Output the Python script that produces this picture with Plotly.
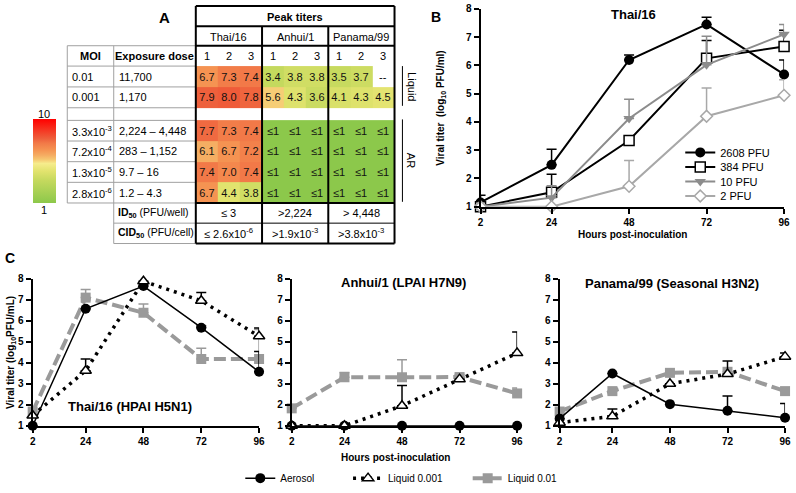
import plotly.graph_objects as go

FONT = "Arial, Liberation Sans, sans-serif"
W, H = 796, 493

# ---------------- Panel A data ----------------
viruses = ["Thai/16", "Anhui/1", "Panama/99"]
replicates = ["1", "2", "3"]
liquid_moi = ["0.01", "0.001"]
liquid_dose = ["11,700", "1,170"]
liquid_titers = [
    [6.7, 7.3, 7.4, 3.4, 3.8, 3.8, 3.5, 3.7, None],
    [7.9, 8.0, 7.8, 5.6, 4.3, 3.6, 4.1, 4.3, 4.5],
]
ar_moi = ["3.3x10<sup>-3</sup>", "7.2x10<sup>-4</sup>", "1.3x10<sup>-5</sup>", "2.8x10<sup>-6</sup>"]
ar_dose = ["2,224 – 4,448", "283 – 1,152", "9.7 – 16", "1.2 – 4.3"]
ar_titers = [
    [7.7, 7.3, 7.4, 1, 1, 1, 1, 1, 1],
    [6.1, 6.7, 7.2, 1, 1, 1, 1, 1, 1],
    [7.4, 7.0, 7.4, 1, 1, 1, 1, 1, 1],
    [6.7, 4.4, 3.8, 1, 1, 1, 1, 1, 1],
]
id50 = ["≤ 3", ">2,224", "> 4,448"]
cid50 = ["≤ 2.6x10<sup>-6</sup>", ">1.9x10<sup>-3</sup>", ">3.8x10<sup>-3</sup>"]

# ---------------- Panel B data ----------------
hours = [2, 24, 48, 72, 96]
b_names = ["2608 PFU", "384 PFU", "10 PFU", "2 PFU"]
b_vals = [
    [1.15, 2.48, 6.19, 7.45, 5.68],
    [1.0, 1.51, 3.34, 6.25, 6.67],
    [1.0, 1.32, 4.12, 6.02, 7.10],
    [1.0, 1.0, 1.72, 4.20, 4.94],
]
b_err = [
    [0.25, 0.55, 0.18, 0.25, 0.51],
    [0.0, 0.64, 0.0, 0.63, 0.57],
    [0.0, 0.42, 0.68, 1.01, 0.35],
    [0.0, 0.0, 0.91, 1.0, 0.55],
]

# ---------------- Panel C data ----------------
c_titles = ["Thai/16 (HPAI H5N1)", "Anhui/1 (LPAI H7N9)", "Panama/99 (Seasonal H3N2)"]
c_names = ["Aerosol", "Liquid 0.001", "Liquid 0.01"]
c_aerosol = [
    [1.0, 6.57, 7.65, 5.67, 3.57],
    [1.0, 1.0, 1.0, 1.0, 1.0],
    [1.34, 3.49, 2.03, 1.72, 1.38],
]
c_aerosol_err = [
    [0, 0, 0.15, 0.08, 0.97],
    [0, 0, 0, 0, 0],
    [0, 0, 0, 0.70, 0.68],
]
c_liq001 = [
    [1.49, 3.62, 7.88, 6.95, 5.26],
    [1.0, 1.0, 1.95, 3.22, 4.46],
    [1.15, 1.45, 3.0, 3.46, 4.29],
]
c_liq001_err = [
    [0, 0.56, 0, 0.39, 0.39],
    [0, 0, 0.97, 0, 1.0],
    [0, 0.35, 0, 0.62, 0.17],
]
c_liq01 = [
    [1.68, 7.10, 6.38, 4.18, 4.18],
    [1.83, 3.31, 3.31, 3.32, 2.54],
    [1.68, 2.65, 3.52, 3.57, 2.65],
]
c_liq01_err = [
    [0, 0.39, 0.42, 0.51, 1.40],
    [0, 0.23, 0.83, 0.12, 0.26],
    [0, 0, 0, 0, 0],
]

GRAY = "#8c8c8c"
LGRAY = "#a8a8a8"
DGRAY = "#9a9a9a"

fig = go.Figure()

# ---------------- Panel B traces ----------------
b_styles = [
    dict(color="black", marker=dict(symbol="circle", size=10, color="black")),
    dict(color="black", marker=dict(symbol="square", size=10, color="white", line=dict(color="black", width=1.5))),
    dict(color=GRAY, marker=dict(symbol="triangle-down", size=10, color=GRAY)),
    dict(color=LGRAY, marker=dict(symbol="diamond", size=9, color="white", line=dict(color=LGRAY, width=1.5))),
]
b_legends = ["legend", "legend5", "legend6", "legend7"]
for name, vals, err, st, lgd in zip(b_names, b_vals, b_err, b_styles, b_legends):
    fig.add_trace(go.Scatter(
        x=hours, y=vals, name=name, mode="lines+markers",
        line=dict(color=st["color"], width=2), marker=st["marker"],
        error_y=dict(type="data", array=err, arrayminus=[0] * len(err), symmetric=False,
                     color=st["color"], thickness=1.5, width=5),
        cliponaxis=False, xaxis="x", yaxis="y", legend=lgd, showlegend=True,
    ))

# ---------------- Panel C traces ----------------
for k in range(3):
    xa = "x%d" % (k + 2)
    ya = "y%d" % (k + 2)
    show = (k == 0)
    fig.add_trace(go.Scatter(
        x=hours, y=c_liq01[k], name=c_names[2], mode="lines+markers",
        line=dict(color=DGRAY, width=4, dash="12px,5px"),
        marker=dict(symbol="square", size=10, color=DGRAY),
        error_y=dict(type="data", array=c_liq01_err[k], arrayminus=[0] * 5, symmetric=False,
                     color=DGRAY, thickness=1.5, width=5),
        cliponaxis=False, xaxis=xa, yaxis=ya, showlegend=show, legend="legend4",
    ))
    fig.add_trace(go.Scatter(
        x=hours, y=c_aerosol[k], name=c_names[0], mode="lines+markers",
        line=dict(color="black", width=1.5),
        marker=dict(symbol="circle", size=10, color="black"),
        error_y=dict(type="data", array=c_aerosol_err[k], arrayminus=[0] * 5, symmetric=False,
                     color="black", thickness=1.5, width=5),
        cliponaxis=False, xaxis=xa, yaxis=ya, showlegend=show, legend="legend2",
    ))
    fig.add_trace(go.Scatter(
        x=hours, y=c_liq001[k], name=c_names[1], mode="lines+markers",
        line=dict(color="black", width=3.5, dash="3px,5px"),
        marker=dict(symbol="triangle-up", size=10, color="white", line=dict(color="black", width=1.5)),
        error_y=dict(type="data", array=c_liq001_err[k], arrayminus=[0] * 5, symmetric=False,
                     color="black", thickness=1.5, width=5),
        cliponaxis=False, xaxis=xa, yaxis=ya, showlegend=show, legend="legend3",
    ))

# ---------------- Panel A heatmap ----------------
TX0, TX1 = 195, 396
cw = (TX1 - TX0) / 9
row_edges = [63, 84.5, 106, 119, 140.3, 161.6, 182.9, 204.2]
col_edges = [TX0 + i * cw for i in range(10)]
z = liquid_titers + [[None] * 9] + ar_titers


def fmt(v):
    if v is None:
        return ""
    if v <= 1:
        return "≤1"
    return "%.1f" % v


txt = [[fmt(v) for v in row] for row in z]
colorscale = [
    [0.0, "#8cc84b"], [0.27, "#c5d95e"], [0.38, "#e2e36e"], [0.47, "#f6ec8c"],
    [0.52, "#f6c670"], [0.57, "#f5ac62"], [0.63, "#f59452"], [0.71, "#f27a48"],
    [0.77, "#ee5e3b"], [1.0, "#ff0000"],
]
fig.add_trace(go.Heatmap(
    x=col_edges, y=row_edges, z=z, text=txt, texttemplate="%{text}",
    textfont=dict(family=FONT, size=11, color="#111"),
    colorscale=colorscale, zmin=1, zmax=10, hoverinfo="skip",
    xaxis="x5", yaxis="y5", showlegend=False,
    colorbar=dict(x=30 / W, xanchor="left", y=1 - 161 / H, yanchor="middle",
                  len=84, lenmode="pixels", thickness=23, thicknessmode="pixels",
                  xpad=0, ypad=0, outlinewidth=0, showticklabels=False, ticks=""),
))

shapes = []


def seg(x0, y0, x1, y1, color="#a0a0a0", width=1):
    shapes.append(dict(type="line", xref="x5", yref="y5", x0=x0, y0=y0, x1=x1, y1=y1,
                       line=dict(color=color, width=width), layer="above"))


# gray grid lines
for yy in [42, 63, 84.5, 106, 119, 140.3, 161.6, 182.9, 204.2]:
    seg(65, yy, TX0, yy)
for yy in [225, 246]:
    seg(112, yy, TX0, yy)
seg(65, 42, 65, 204.2)
seg(112, 42, 112, 246)
# black lines
for yy in [1, 22, 42, 204.2, 246]:
    seg(TX0, yy, TX1, yy, "black", 2)
seg(TX0, 225, TX1, 225, "black", 1)
seg(TX0, 1, TX0, 246, "black", 2)
seg(TX1, 1, TX1, 246, "black", 2)
for xx in [TX0 + 3 * cw, TX0 + 6 * cw]:
    seg(xx, 22, xx, 246, "black", 2)
# side brackets
seg(404, 63, 404, 104, "black", 1)
seg(404, 118, 404, 203, "black", 1)

ann = []


def txt_ann(x, y, text, size=11, bold=False, xanchor="center", angle=0, ref="x5"):
    ann.append(dict(x=x, y=y, xref=ref, yref=ref.replace("x", "y"), text=text, showarrow=False,
                    xanchor=xanchor, yanchor="middle", textangle=angle,
                    font=dict(family=FONT, size=size, color="black",
                              weight="bold" if bold else "normal")))


txt_ann(163, 13, "A", size=15, bold=True)
txt_ann((TX0 + TX1) / 2, 12, "Peak titers", bold=True)
for i, v in enumerate(viruses):
    txt_ann(TX0 + (3 * i + 1.5) * cw, 33, v)
txt_ann(88, 53, "MOI", bold=True)
txt_ann(153, 53, "Exposure dose", bold=True)
for i in range(9):
    txt_ann(TX0 + (i + 0.5) * cw, 53, replicates[i % 3])
row_mid = [(row_edges[i] + row_edges[i + 1]) / 2 for i in range(len(row_edges) - 1)]
for i in range(2):
    txt_ann(68, row_mid[i], liquid_moi[i], xanchor="left")
    txt_ann(115, row_mid[i], liquid_dose[i], xanchor="left")
for i in range(4):
    txt_ann(68, row_mid[3 + i], ar_moi[i], xanchor="left")
    txt_ann(115, row_mid[3 + i], ar_dose[i], xanchor="left")
txt_ann(TX0 + 8.5 * cw, row_mid[0], "--")
txt_ann(114, 214.6, "<b>ID<sub>50</sub></b> (PFU/well)", size=10.5, xanchor="left")
txt_ann(114, 235.5, "<b>CID<sub>50</sub></b> (PFU/cell)", size=10.5, xanchor="left")
for i in range(3):
    txt_ann(TX0 + (3 * i + 1.5) * cw, 214.6, id50[i])
    txt_ann(TX0 + (3 * i + 1.5) * cw, 235.5, cid50[i])
txt_ann(413, 84, "Liquid", angle=90)
txt_ann(413, 160, "AR", angle=90)
txt_ann(41, 112, "10")
txt_ann(41, 211, "1")

# Panel B / C text
txt_ann(438, 12, "B", size=14, bold=True)
txt_ann(638, 10, "Thai/16", size=13, bold=True)
txt_ann(443, 106, "Viral titer  (log<sub>10</sub> PFU/ml)", size=10, bold=True, angle=-90)
txt_ann(637, 237, "Hours post-inoculation", size=10, bold=True)
txt_ann(7, 261, "C", size=14, bold=True)
txt_ann(8, 358, "Viral titer (log<sub>10</sub>PFU/mL)", size=10, bold=True, angle=-90)
txt_ann(128, 414, c_titles[0], size=13, bold=True)
txt_ann(405, 286, c_titles[1], size=13, bold=True)
txt_ann(677, 287, c_titles[2], size=13, bold=True)
txt_ann(397, 467, "Hours post-inoculation", size=10, bold=True)

axis_common = dict(showline=True, linewidth=2, linecolor="black", ticks="outside", ticklen=5,
                   tickwidth=1.5, tickcolor="black", showgrid=False, zeroline=False,
                   tickfont=dict(family=FONT, size=10, color="black", weight="bold"))
xax = dict(axis_common, range=[2, 96], tickvals=hours)
yax = dict(axis_common, range=[1, 8], tickvals=[1, 2, 3, 4, 5, 6, 7, 8])


def lg(xpx, ypx, size):
    return dict(x=xpx / W, y=1 - ypx / H, xanchor="left", yanchor="middle",
                bgcolor="rgba(0,0,0,0)", font=dict(family=FONT, size=size, color="black"))


layout = dict(
    width=W, height=H, margin=dict(l=0, r=0, t=0, b=0),
    paper_bgcolor="white", plot_bgcolor="rgba(0,0,0,0)",
    font=dict(family=FONT, color="black"), showlegend=True,
    xaxis=dict(xax, domain=[483 / W, 790 / W], anchor="y"),
    yaxis=dict(yax, domain=[1 - 208 / H, 1 - 4 / H], anchor="x"),
    xaxis2=dict(xax, domain=[30 / W, 259 / W], anchor="y2"),
    yaxis2=dict(yax, domain=[1 - 434 / H, 1 - 282.3 / H], anchor="x2"),
    xaxis3=dict(xax, domain=[292 / W, 520 / W], anchor="y3"),
    yaxis3=dict(yax, domain=[1 - 434 / H, 1 - 282.3 / H], anchor="x3"),
    xaxis4=dict(xax, domain=[563 / W, 791 / W], anchor="y4"),
    yaxis4=dict(yax, domain=[1 - 434 / H, 1 - 282.3 / H], anchor="x4"),
    xaxis5=dict(domain=[0, 1], range=[0, W], visible=False, anchor="y5"),
    yaxis5=dict(domain=[0, 1], range=[H, 0], visible=False, anchor="x5"),
    shapes=shapes, annotations=ann,
    legend=lg(685, 152, 11),
    legend5=lg(685, 167, 11),
    legend6=lg(685, 182, 11),
    legend7=lg(685, 197, 11),
    legend2=lg(240, 488, 10),
    legend3=lg(349, 488, 10),
    legend4=lg(470, 488, 10),
)
fig.update_layout(**layout)
fig.write_html("out.html", config={"displayModeBar": False},
               post_script="document.body.style.margin='0';")
